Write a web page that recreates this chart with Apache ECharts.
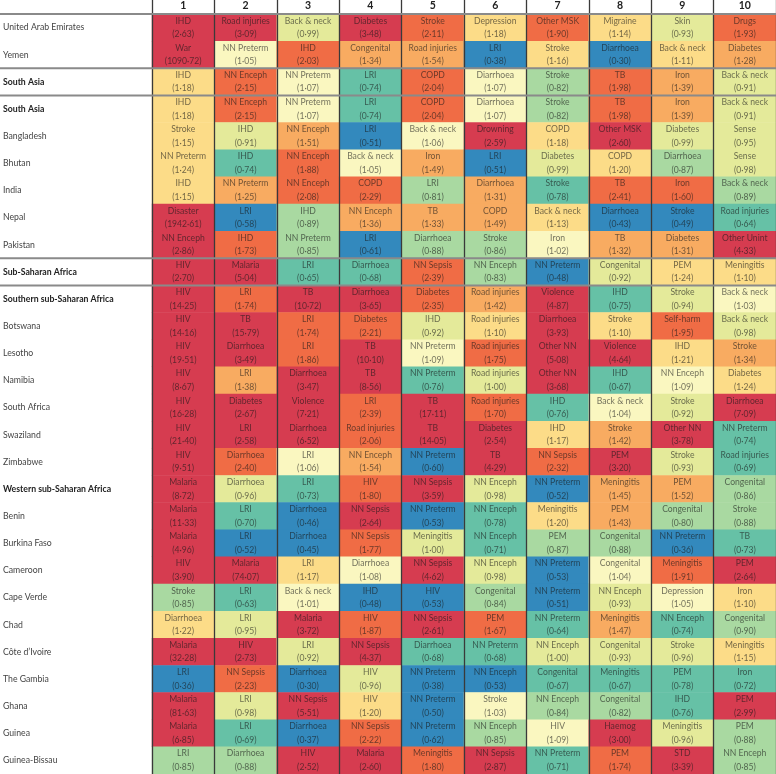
<!DOCTYPE html>
<html>
<head>
<meta charset="utf-8">
<script src="https://cdn.jsdelivr.net/npm/echarts@6/dist/echarts.min.js"></script>
<style>
html,body{margin:0;padding:0;background:#fff;}
#chart{width:776px;height:774px;}
</style>
</head>
<body>
<div id="chart"></div>
<script>
const columns = ['1','2','3','4','5','6','7','8','9','10'];

const regions = [
  'United Arab Emirates','Yemen','South Asia','South Asia','Bangladesh','Bhutan','India','Nepal','Pakistan',
  'Sub-Saharan Africa','Southern sub-Saharan Africa','Botswana','Lesotho','Namibia','South Africa','Swaziland','Zimbabwe',
  'Western sub-Saharan Africa','Benin','Burkina Faso','Cameroon','Cape Verde','Chad','Côte d’Ivoire','The Gambia','Ghana','Guinea','Guinea-Bissau'
];

const boldRows = [2,3,9,10,17];
const separatorsBefore = [2,3,9,10];

const causes = [
  ['IHD','Road injuries','Back & neck','Diabetes','Stroke','Depression','Other MSK','Migraine','Skin','Drugs'],
  ['War','NN Preterm','IHD','Congenital','Road injuries','LRI','Stroke','Diarrhoea','Back & neck','Diabetes'],
  ['IHD','NN Enceph','NN Preterm','LRI','COPD','Diarrhoea','Stroke','TB','Iron','Back & neck'],
  ['IHD','NN Enceph','NN Preterm','LRI','COPD','Diarrhoea','Stroke','TB','Iron','Back & neck'],
  ['Stroke','IHD','NN Enceph','LRI','Back & neck','Drowning','COPD','Other MSK','Diabetes','Sense'],
  ['NN Preterm','IHD','NN Enceph','Back & neck','Iron','LRI','Diabetes','COPD','Diarrhoea','Sense'],
  ['IHD','NN Preterm','NN Enceph','COPD','LRI','Diarrhoea','Stroke','TB','Iron','Back & neck'],
  ['Disaster','LRI','IHD','NN Enceph','TB','COPD','Back & neck','Diarrhoea','Stroke','Road injuries'],
  ['NN Enceph','IHD','NN Preterm','LRI','Diarrhoea','Stroke','Iron','TB','Diabetes','Other Unint'],
  ['HIV','Malaria','LRI','Diarrhoea','NN Sepsis','NN Enceph','NN Preterm','Congenital','PEM','Meningitis'],
  ['HIV','LRI','TB','Diarrhoea','Diabetes','Road injuries','Violence','IHD','Stroke','Back & neck'],
  ['HIV','TB','LRI','Diabetes','IHD','Road injuries','Diarrhoea','Stroke','Self-harm','Back & neck'],
  ['HIV','Diarrhoea','LRI','TB','NN Preterm','Road injuries','Other NN','Violence','IHD','Stroke'],
  ['HIV','LRI','Diarrhoea','TB','NN Preterm','Road injuries','Other NN','IHD','NN Enceph','Diabetes'],
  ['HIV','Diabetes','Violence','LRI','TB','Road injuries','IHD','Back & neck','Stroke','Diarrhoea'],
  ['HIV','LRI','Diarrhoea','Road injuries','TB','Diabetes','IHD','Stroke','Other NN','NN Preterm'],
  ['HIV','Diarrhoea','LRI','NN Enceph','NN Preterm','TB','NN Sepsis','PEM','Stroke','Road injuries'],
  ['Malaria','Diarrhoea','LRI','HIV','NN Sepsis','NN Enceph','NN Preterm','Meningitis','PEM','Congenital'],
  ['Malaria','LRI','Diarrhoea','NN Sepsis','NN Preterm','NN Enceph','Meningitis','PEM','Congenital','Stroke'],
  ['Malaria','LRI','Diarrhoea','NN Sepsis','Meningitis','NN Enceph','PEM','Congenital','NN Preterm','TB'],
  ['HIV','Malaria','LRI','Diarrhoea','NN Sepsis','NN Enceph','NN Preterm','Congenital','Meningitis','PEM'],
  ['Stroke','LRI','Back & neck','IHD','HIV','Congenital','NN Preterm','NN Enceph','Depression','Iron'],
  ['Diarrhoea','LRI','Malaria','HIV','NN Sepsis','PEM','NN Preterm','Meningitis','NN Enceph','Congenital'],
  ['Malaria','HIV','LRI','NN Sepsis','Diarrhoea','NN Preterm','NN Enceph','Congenital','Stroke','Meningitis'],
  ['LRI','NN Sepsis','Diarrhoea','HIV','NN Preterm','NN Enceph','Congenital','Meningitis','PEM','Iron'],
  ['Malaria','LRI','NN Sepsis','HIV','NN Preterm','Stroke','NN Enceph','Congenital','IHD','PEM'],
  ['Malaria','LRI','Diarrhoea','NN Sepsis','NN Preterm','NN Enceph','HIV','Haemog','Meningitis','PEM'],
  ['LRI','Diarrhoea','HIV','Malaria','Meningitis','NN Sepsis','NN Preterm','PEM','STD','NN Enceph']
];

const ratios = [
  [2.63,3.09,0.99,3.48,2.11,1.18,1.90,1.14,0.93,1.93],
  [1090.72,1.05,2.03,1.34,1.54,0.38,1.16,0.30,1.11,1.28],
  [1.18,2.15,1.07,0.74,2.04,1.07,0.82,1.98,1.39,0.91],
  [1.18,2.15,1.07,0.74,2.04,1.07,0.82,1.98,1.39,0.91],
  [1.15,0.91,1.51,0.51,1.06,2.59,1.18,2.60,0.99,0.95],
  [1.24,0.74,1.88,1.05,1.49,0.51,0.99,1.20,0.87,0.98],
  [1.15,1.25,2.08,2.29,0.81,1.31,0.78,2.41,1.60,0.89],
  [1942.61,0.58,0.89,1.36,1.33,1.49,1.13,0.43,0.49,0.64],
  [2.86,1.73,0.85,0.61,0.88,0.86,1.02,1.32,1.31,4.33],
  [2.70,5.04,0.65,0.68,2.39,0.83,0.48,0.92,1.24,1.10],
  [14.25,1.74,10.72,3.65,2.35,1.42,4.87,0.75,0.94,1.03],
  [14.16,15.79,1.74,2.21,0.92,1.10,3.93,1.10,1.95,0.98],
  [19.51,3.49,1.86,10.10,1.09,1.75,5.08,4.64,1.21,1.34],
  [8.67,1.38,3.47,8.56,0.76,1.00,3.68,0.67,1.09,1.24],
  [16.28,2.67,7.21,2.39,17.11,1.70,0.76,1.04,0.92,7.09],
  [21.40,2.58,6.52,2.06,14.05,2.54,1.17,1.42,3.78,0.74],
  [9.51,2.40,1.06,1.54,0.60,4.29,2.32,3.20,0.93,0.69],
  [8.72,0.96,0.73,1.80,3.59,0.98,0.52,1.45,1.52,0.86],
  [11.33,0.70,0.46,2.64,0.53,0.78,1.20,1.43,0.80,0.88],
  [4.96,0.52,0.45,1.77,1.00,0.71,0.87,0.88,0.36,0.73],
  [3.90,74.07,1.17,1.08,4.62,0.98,0.53,1.04,1.91,2.64],
  [0.85,0.63,1.01,0.48,0.53,0.84,0.51,0.93,1.05,1.10],
  [1.22,0.95,3.72,1.87,2.61,1.67,0.64,1.47,0.74,0.90],
  [32.28,2.73,0.92,4.37,0.68,0.68,1.00,0.93,0.96,1.15],
  [0.36,2.23,0.30,0.96,0.38,0.53,0.67,0.67,0.78,0.72],
  [81.63,0.98,5.51,1.20,0.50,1.03,0.84,0.82,0.76,2.99],
  [6.85,0.69,0.37,2.22,0.62,0.85,1.09,3.00,0.96,0.88],
  [0.85,0.88,2.52,2.60,1.80,2.87,0.71,1.74,3.39,0.85]
];

const data = [];
ratios.forEach((row, r) => {
  row.forEach((v, c) => {
    data.push({ value: [c, r, v], cause: causes[r][c] });
  });
});

function fmt(v) { return v.toFixed(2).replace('.', '·'); }

const FONT = 'Lato, "Open Sans", sans-serif';
const chart = echarts.init(document.getElementById('chart'));

chart.setOption({
  animation: false,
  backgroundColor: '#fff',
  grid: { left: 151, right: 0, top: 14, bottom: 0 },
  xAxis: {
    type: 'category',
    data: columns,
    position: 'top',
    z: 10,
    boundaryGap: true,
    axisLine: { show: false },
    axisTick: { show: true, interval: 0, length: 14, lineStyle: { color: '#3a3a3a', width: 1.3 } },
    axisLabel: { interval: 0, margin: 3, fontFamily: FONT, fontWeight: 'bold', fontSize: 10.5, color: '#222' },
    splitLine: { show: true, interval: 0, lineStyle: { color: '#3a3a3a', width: 1.3 } }
  },
  yAxis: {
    type: 'category',
    data: regions,
    inverse: true,
    axisLine: { show: false },
    axisTick: { show: false },
    splitLine: { show: false },
    axisLabel: {
      interval: 0,
      margin: 149,
      align: 'left',
      fontFamily: FONT,
      fontSize: 8.7,
      color: '#444',
      formatter: (val, idx) => boldRows.includes(idx) ? '{b|' + val + '}' : val,
      rich: { b: { fontFamily: FONT, fontSize: 8.7, fontWeight: 'bold', color: '#222' } }
    }
  },
  visualMap: {
    type: 'piecewise',
    show: false,
    dimension: 2,
    pieces: [
      { lt: 0.625, color: '#3389bd' },
      { gte: 0.625, lt: 0.8, color: '#66c1a6' },
      { gte: 0.8, lt: 0.909, color: '#a9d9a1' },
      { gte: 0.909, lte: 1.0, color: '#e4ea9a' },
      { gt: 1.0, lt: 1.1, color: '#faf7c0' },
      { gte: 1.1, lt: 1.25, color: '#fcdc88' },
      { gte: 1.25, lt: 1.6, color: '#f8ab61' },
      { gte: 1.6, lt: 2.5, color: '#f06c45' },
      { gte: 2.5, color: '#d63c50' }
    ]
  },
  series: [{
    type: 'heatmap',
    data: data,
    itemStyle: { borderWidth: 0 },
    label: {
      show: true,
      fontFamily: FONT,
      fontSize: 8.6,
      lineHeight: 13.5,
      color: 'rgba(25,25,25,0.62)',
      formatter: p => p.data.cause + '\n(' + fmt(p.data.value[2]) + ')'
    },
    emphasis: { disabled: true }
  }]
});

// horizontal separators derived from the category axis positions
const yc = i => chart.convertToPixel({ yAxisIndex: 0 }, i);
const rowH = yc(1) - yc(0);
const lines = [];
const hdrY = yc(0) - rowH / 2;
lines.push(hdrY);
separatorsBefore.forEach(i => lines.push((yc(i - 1) + yc(i)) / 2));
chart.setOption({
  graphic: lines.map(y => ({
    type: 'line',
    z: 100,
    shape: { x1: 0, y1: y, x2: 776, y2: y },
    style: { stroke: '#8a8a8a', lineWidth: 2 }
  }))
});
</script>
</body>
</html>
